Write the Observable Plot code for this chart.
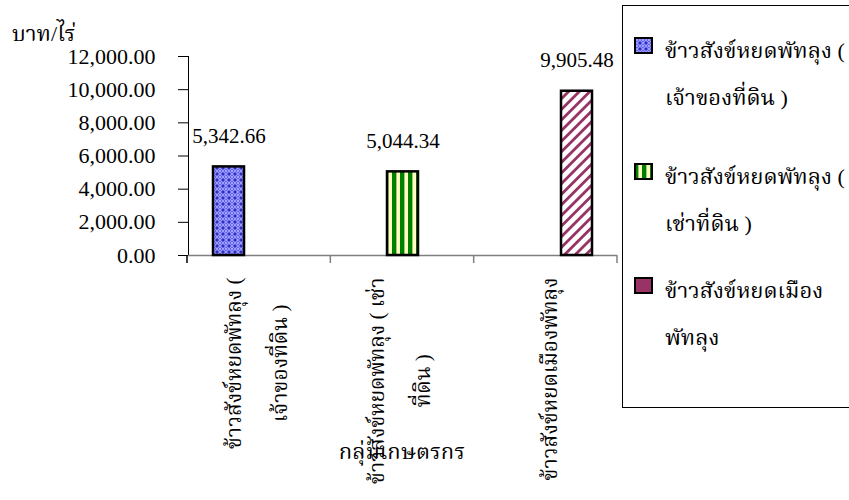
<!DOCTYPE html>
<html><head><meta charset="utf-8">
<script src="https://cdn.jsdelivr.net/npm/d3@7"></script>
<script src="https://cdn.jsdelivr.net/npm/@observablehq/plot@0.6"></script>
<style>
body{margin:0;background:#fff;}
#wrap{position:relative;width:849px;height:500px;overflow:hidden;font-family:"Liberation Serif","Noto Serif Thai","Noto Sans Thai",serif;}
#legend{position:absolute;left:622px;top:5px;width:260px;height:403px;border:1px solid #000;box-sizing:border-box;background:#fff}
.item{position:absolute;left:11px;display:flex;align-items:flex-start}
.item svg{flex:none;margin-top:10px;overflow:visible}
.item span{font-size:22px;line-height:47px;white-space:pre;margin-left:12px;color:#000}
</style></head><body><div id="wrap"><div id="chart"></div><div id="legend"></div></div>
<script>
const categories = ["ข้าวสังข์หยดพัทลุง ( เจ้าของที่ดิน )", "ข้าวสังข์หยดพัทลุง ( เช่าที่ดิน )", "ข้าวสังข์หยดเมืองพัทลุง"];
const values = [5342.66, 5044.34, 9905.48];
const axisLabels = ["ข้าวสังข์หยดพัทลุง (\nเจ้าของที่ดิน )", "ข้าวสังข์หยดพัทลุง ( เช่า\nที่ดิน )", "ข้าวสังข์หยดเมืองพัทลุง"];
const legendLabels = ["ข้าวสังข์หยดพัทลุง (\nเจ้าของที่ดิน )", "ข้าวสังข์หยดพัทลุง (\nเช่าที่ดิน )", "ข้าวสังข์หยดเมือง\nพัทลุง"];
const yTicks = [0, 2000, 4000, 6000, 8000, 10000, 12000];
const yLabel = "บาท/ไร่";
const xTitle = "กลุ่มเกษตรกร";
const patternIds = ["pat-blue", "pat-green", "pat-maroon"];
const legendFills = ["url(#pat-blue)", "url(#pat-green)", "#993366"];

const FONT = '"Liberation Serif","Noto Serif Thai","Noto Sans Thai",serif';
const LABEL_SIZE = 21;
const fmt = d3.format(",.2f");

// measure longest line of each rotated category label so that it starts just below the axis
const ctx = document.createElement("canvas").getContext("2d");
ctx.font = `${LABEL_SIZE}px ${FONT}`;
const lineCounts = axisLabels.map(l => l.split("\n").length);
const longest = axisLabels.map(l => d3.max(l.split("\n"), s => ctx.measureText(s).width));

const data = categories.map((c, i) => ({category: c, series: c, value: values[i], label: axisLabels[i], w: longest[i], lines: lineCounts[i]}));

const chart = Plot.plot({
  width: 849, height: 500,
  marginLeft: 187, marginRight: 232, marginTop: 56, marginBottom: 245,
  style: {fontSize: "22px", fontFamily: FONT, color: "#000", background: "transparent"},
  fx: {domain: categories, padding: 0, axis: null},
  x: {domain: categories, paddingInner: 0, paddingOuter: 0.74, axis: null},
  y: {domain: [0, 12000], ticks: yTicks, tickFormat: fmt, tickSize: 10, tickPadding: 23, label: null, line: true},
  color: {domain: categories, range: patternIds.map(id => `url(#${id})`)},
  marks: [
    Plot.ruleY([0], {stroke: "#808080", strokeWidth: 1.5}),
    Plot.barY(data, {fx: "category", x: "series", y: "value", fill: "series", stroke: "#000", strokeWidth: 2.5}),
    Plot.text(data, {fx: "category", x: "series", y: "value", text: d => fmt(d.value), lineAnchor: "bottom", dy: -24, fontSize: 21}),
    ...data.map(d => Plot.text([d], {fx: "category", text: "label", frameAnchor: "bottom", rotate: -90, textAnchor: "middle", lineAnchor: "middle", lineHeight: 2.2, dx: d.lines > 1 ? -11 : -4, dy: 22 + d.w / 2, fontSize: LABEL_SIZE}))
  ]
});
document.getElementById("chart").appendChild(chart);

const svg = d3.select(chart);
const defs = svg.insert("defs", ":first-child");
// blue lattice
const p1 = defs.append("pattern").attr("id", "pat-blue").attr("patternUnits", "userSpaceOnUse").attr("width", 6).attr("height", 6);
p1.append("rect").attr("width", 6).attr("height", 6).attr("fill", "#6262ee");
p1.append("path").attr("d", "M0,3L3,0L6,3L3,6Z").attr("fill", "none").attr("stroke", "#9c9cff").attr("stroke-width", 1);
[[0,0],[6,0],[0,6],[6,6]].forEach(([cx,cy]) => p1.append("circle").attr("cx", cx).attr("cy", cy).attr("r", 1.1).attr("fill", "#2424a8"));
p1.append("circle").attr("cx", 3).attr("cy", 3).attr("r", 0.9).attr("fill", "#c0c0ff");
// green stripes
const p2 = defs.append("pattern").attr("id", "pat-green").attr("patternUnits", "userSpaceOnUse").attr("width", 8).attr("height", 8);
p2.append("rect").attr("width", 8).attr("height", 8).attr("fill", "#ffffc4");
p2.append("rect").attr("x", 0).attr("width", 4).attr("height", 8).attr("fill", "#008000");
p2.append("rect").attr("x", 4).attr("width", 0.8).attr("height", 8).attr("fill", "#80c060");
// maroon diagonal
const p3 = defs.append("pattern").attr("id", "pat-maroon").attr("patternUnits", "userSpaceOnUse").attr("width", 7.5).attr("height", 7.5).attr("patternTransform", "rotate(45)");
p3.append("rect").attr("width", 7.5).attr("height", 7.5).attr("fill", "#fff");
p3.append("rect").attr("width", 2.8).attr("height", 7.5).attr("fill", "#993366");

// x category boundary ticks, y label, x title
const fxs = chart.scale("fx");
const ys = chart.scale("y");
const [r0, r1] = fxs.range;
const y0 = ys.apply(0);
const n = categories.length;
const g = svg.append("g");
d3.range(n + 1).forEach(i => {
  const xx = r0 + i * (r1 - r0) / n;
  g.append("line").attr("x1", xx).attr("x2", xx).attr("y1", y0).attr("y2", y0 + 8)
    .attr("stroke", i === 0 ? "#000" : "#808080").attr("stroke-width", 1.5);
});
g.append("text").attr("x", 12).attr("y", ys.apply(12000) - 15).attr("text-anchor", "start").attr("font-size", 22).attr("font-family", FONT).attr("fill", "#000").text(yLabel);
g.append("text").attr("x", (r0 + r1) / 2).attr("y", y0 + 204).attr("text-anchor", "middle").attr("font-size", 22).attr("font-family", FONT).attr("fill", "#000").text(xTitle);

// legend
const tops = [21, 147, 261];
const legend = d3.select("#legend");
legendLabels.forEach((lab, i) => {
  const it = legend.append("div").attr("class", "item").style("top", tops[i] + "px");
  const s = it.append("svg").attr("width", 19).attr("height", 17);
  s.append("rect").attr("x", 1).attr("y", 1).attr("width", 17).attr("height", 15).attr("fill", legendFills[i]).attr("stroke", "#000").attr("stroke-width", 2);
  it.append("span").text(lab);
});
</script></body></html>
